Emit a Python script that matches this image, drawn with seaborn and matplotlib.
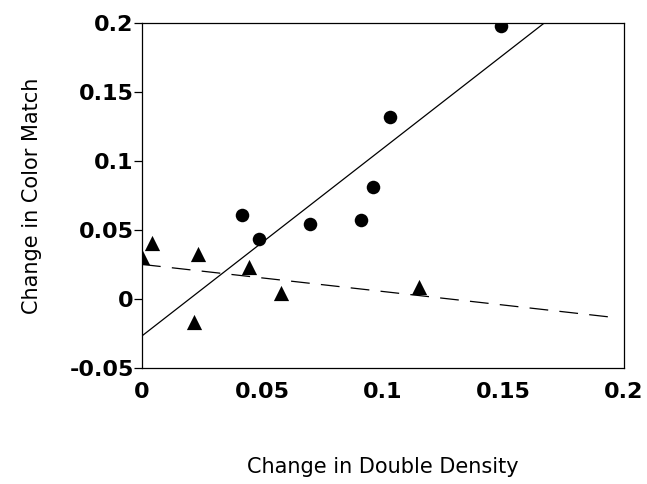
import numpy as np
import pandas as pd
import matplotlib
matplotlib.use("Agg")
import matplotlib.pyplot as plt
import seaborn as sns

# Data
circle_x = [0.0416, 0.0487, 0.0697, 0.0909, 0.0960, 0.1030, 0.1490]
circle_y = [0.0610, 0.0433, 0.0541, 0.0570, 0.0810, 0.1320, 0.1980]
tri_x = [0.0000, 0.0043, 0.0214, 0.0234, 0.0445, 0.0575, 0.1148]
tri_y = [0.0307, 0.0404, -0.0165, 0.0326, 0.0234, 0.0041, 0.0085]

x_ticks = [0, 0.05, 0.1, 0.15, 0.2]
x_tick_labels = ["0", "0.05", "0.1", "0.15", "0.2"]
y_ticks = [-0.05, 0, 0.05, 0.1, 0.15, 0.2]
y_tick_labels = ["-0.05", "0", "0.05", "0.1", "0.15", "0.2"]
solid_range = [0.0, 0.2]
dashed_range = [0.0, 0.195]

sns.set_style("white")
plt.rcParams["font.family"] = ["DejaVu Sans"]
plt.rcParams["text.color"] = "black"
plt.rcParams["axes.labelcolor"] = "black"
plt.rcParams["xtick.color"] = "black"
plt.rcParams["ytick.color"] = "black"

df = pd.DataFrame({
    "x": circle_x + tri_x,
    "y": circle_y + tri_y,
    "group": ["circle"] * len(circle_x) + ["triangle"] * len(tri_x),
})

fig = plt.figure(figsize=(6.47, 4.84), dpi=100)
ax = fig.add_axes([0.2195, 0.2397, 0.745, 0.7128])

sns.scatterplot(data=df[df.group == "circle"], x="x", y="y", marker="o",
                color="black", s=95, edgecolor="black", linewidth=0, ax=ax,
                legend=False, zorder=3)
sns.scatterplot(data=df[df.group == "triangle"], x="x", y="y", marker="^",
                color="black", s=120, edgecolor="black", linewidth=0, ax=ax,
                legend=False, zorder=3)

# regression lines
m1, b1 = np.polyfit(circle_x, circle_y, 1)
xs1 = np.array(solid_range)
ax.plot(xs1, m1 * xs1 + b1, color="black", lw=0.9, zorder=2)
m2, b2 = np.polyfit(tri_x, tri_y, 1)
xs2 = np.array(dashed_range)
ax.plot(xs2, m2 * xs2 + b2, color="black", lw=0.9, dashes=(15, 9), zorder=2)

ax.set_xlim(0, 0.2)
ax.set_ylim(-0.05, 0.2)
ax.set_xticks(x_ticks)
ax.set_xticklabels(x_tick_labels)
ax.set_yticks(y_ticks)
ax.set_yticklabels(y_tick_labels)
for lab in ax.get_xticklabels() + ax.get_yticklabels():
    lab.set_fontweight("bold")
    lab.set_fontsize(16)
    lab.set_color("black")
ax.tick_params(axis="x", length=0, pad=10)
ax.tick_params(axis="y", length=6, width=0.9, direction="out", pad=0, left=True)

ax.set_xlabel("Change in Double Density", fontsize=15, labelpad=40, color="black")
ax.set_ylabel("Change in Color Match", fontsize=15, labelpad=20, color="black")

for sp in ax.spines.values():
    sp.set_visible(True)
    sp.set_color("black")
    sp.set_linewidth(0.9)

fig.savefig("out.png", dpi=100)
